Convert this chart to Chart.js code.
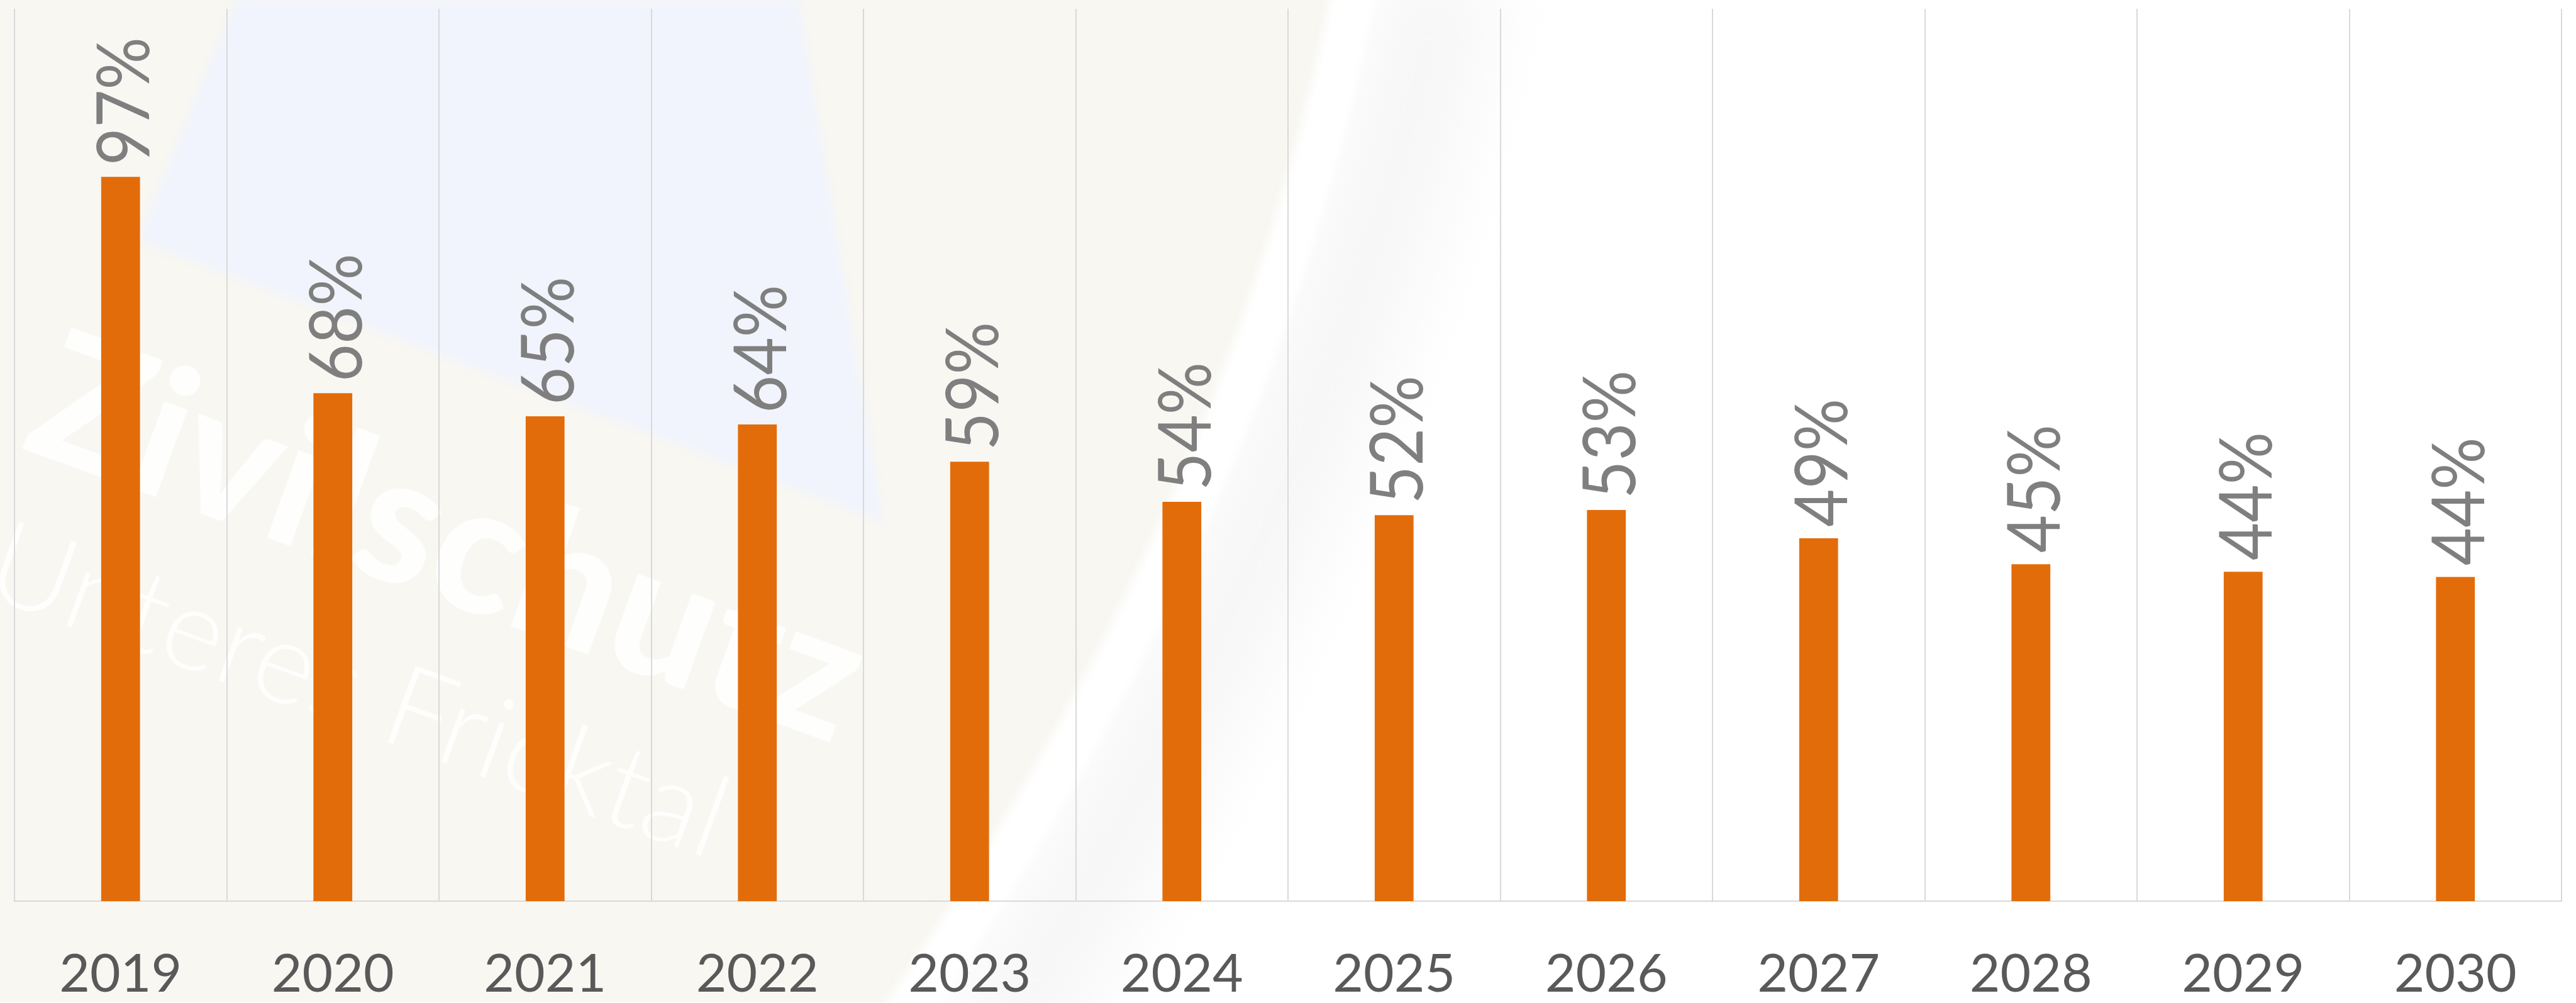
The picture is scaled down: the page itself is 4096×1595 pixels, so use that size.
<!DOCTYPE html>
<html>
<head>
<meta charset="utf-8">
<script src="https://cdn.jsdelivr.net/npm/chart.js@4.4.1/dist/chart.umd.min.js"></script>
<style>
html,body{margin:0;padding:0;background:#ffffff;overflow:hidden;}
#wrap{width:4096px;height:1595px;position:relative;}
canvas{display:block;}
</style>
</head>
<body>
<div id="wrap"><canvas id="c" width="4096" height="1595"></canvas></div>
<script>
// ---- data ----
const categories = ['2019','2020','2021','2022','2023','2024','2025','2026','2027','2028','2029','2030'];
const values = [97.4, 68.3, 65.2, 64.1, 59.1, 53.7, 51.9, 52.6, 48.8, 45.3, 44.3, 43.6];
const valueLabels = ['97%','68%','65%','64%','59%','54%','52%','53%','49%','45%','44%','44%'];
const watermarkTitle = 'Zivilschutz';
const watermarkSubtitle = 'Unteres Fricktal';

const S = 0.87; // scale from reference pixels

// ---- background (faded logo picture behind the chart) ----
const backgroundPlugin = {
  id: 'bgPicture',
  beforeDraw(chart) {
    const ctx = chart.ctx;
    ctx.save();
    ctx.fillStyle = '#ffffff';
    ctx.fillRect(0, 0, chart.width, chart.height);
    ctx.scale(S, S);
    // beige area left of the swoosh
    ctx.fillStyle = '#f8f7f2';
    ctx.beginPath();
    ctx.moveTo(0, 0);
    ctx.lineTo(2475, 0);
    ctx.quadraticCurveTo(2297, 916, 1650, 1832);
    ctx.lineTo(0, 1832);
    ctx.closePath();
    ctx.fill();
    // pale blue quad
    ctx.save();
    ctx.filter = 'blur(6px)';
    ctx.fillStyle = '#f1f4fc';
    ctx.beginPath();
    ctx.moveTo(430, 0);
    ctx.lineTo(1460, 0);
    ctx.lineTo(1615, 955);
    ctx.lineTo(250, 440);
    ctx.closePath();
    ctx.fill();
    ctx.restore();
    // soft grey shade right of the swoosh
    ctx.save();
    ctx.filter = 'blur(50px)';
    ctx.strokeStyle = 'rgba(230,230,230,0.3)';
    ctx.lineWidth = 220;
    ctx.beginPath();
    ctx.moveTo(2640, -50);
    ctx.quadraticCurveTo(2440, 916, 1820, 1900);
    ctx.stroke();
    ctx.restore();
    // white swoosh band
    ctx.save();
    ctx.filter = 'blur(8px)';
    ctx.strokeStyle = '#ffffff';
    ctx.lineWidth = 80;
    ctx.beginPath();
    ctx.moveTo(2475, -20);
    ctx.quadraticCurveTo(2297, 916, 1650, 1860);
    ctx.stroke();
    ctx.restore();
    // watermark texts
    ctx.save();
    ctx.fillStyle = 'rgba(255,255,255,0.85)';
    ctx.translate(35, 818);
    ctx.rotate(20 * Math.PI / 180);
    ctx.font = '900 330px Lato';
    ctx.textBaseline = 'alphabetic';
    ctx.fillText(watermarkTitle, 0, 0);
    ctx.restore();
    ctx.save();
    ctx.fillStyle = 'rgba(255,255,255,0.8)';
    ctx.translate(-35, 1086);
    ctx.rotate(20 * Math.PI / 180);
    ctx.font = '300 210px Lato';
    ctx.fillText(watermarkSubtitle, 0, 0);
    ctx.restore();
    ctx.restore();
  }
};

// ---- rotated value labels above bars ----
const valueLabelPlugin = {
  id: 'valueLabels',
  afterDatasetsDraw(chart) {
    const ctx = chart.ctx;
    const meta = chart.getDatasetMeta(0);
    const fs = 117;
    ctx.save();
    ctx.fillStyle = '#7f7f7f';
    ctx.font = fs + 'px Lato';
    ctx.textAlign = 'left';
    ctx.textBaseline = 'alphabetic';
    meta.data.forEach((bar, i) => {
      ctx.save();
      ctx.translate(bar.x + 0.3583 * fs + 3.5, bar.y - 18);
      ctx.rotate(-Math.PI / 2);
      ctx.scale(0.89, 1);
      ctx.fillText(valueLabels[i], 0, 0);
      ctx.restore();
    });
    ctx.restore();
  }
};

new Chart(document.getElementById('c'), {
  type: 'bar',
  data: {
    labels: categories,
    datasets: [{
      data: values,
      backgroundColor: '#E36C0A',
      borderWidth: 0,
      barPercentage: 0.183,
      categoryPercentage: 1.0
    }]
  },
  options: {
    responsive: false,
    animation: false,
    devicePixelRatio: 1,
    layout: { padding: { left: 23, right: 23, top: 14, bottom: 0 } },
    plugins: { legend: { display: false }, tooltip: { enabled: false }, title: { display: false } },
    scales: {
      y: { display: false, min: 0, max: 120 },
      x: {
        offset: true,
        grid: { display: true, offset: true, color: '#d9d9d9', lineWidth: 2, drawTicks: false },
        border: { display: true, color: '#d9d9d9', width: 2 },
        ticks: {
          color: '#595959',
          font: { family: 'Lato', size: 84, lineHeight: 1.2 },
          padding: 67,
          maxRotation: 0,
          autoSkip: false
        },
        afterFit(scale) { scale.height = 162; }
      }
    }
  },
  plugins: [backgroundPlugin, valueLabelPlugin]
});
</script>
</body>
</html>
